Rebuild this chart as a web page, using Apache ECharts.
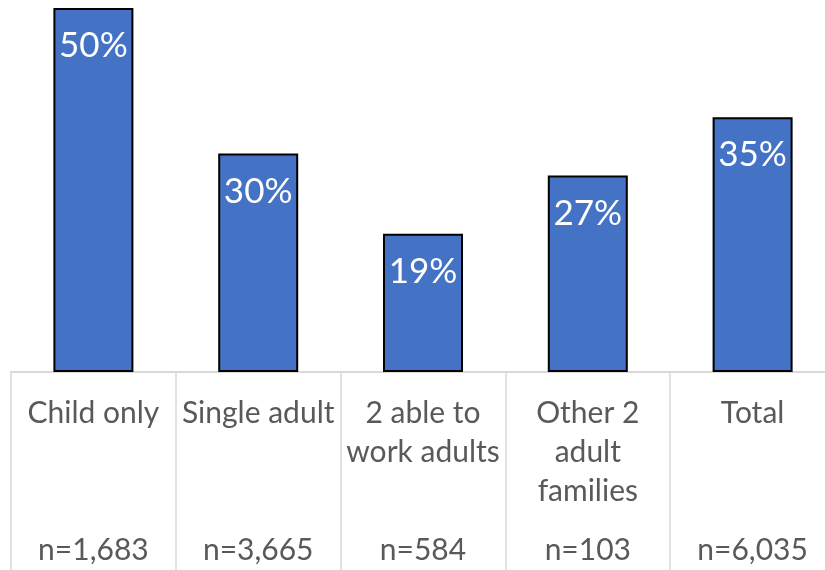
<!DOCTYPE html>
<html>
<head>
<meta charset="utf-8">
<script src="https://cdn.jsdelivr.net/npm/echarts@6/dist/echarts.min.js"></script>
<style>
  html, body { margin: 0; padding: 0; background: #fff; overflow: hidden; }
  /* the last category column runs past the right edge of the page */
  #chart { width: 835px; height: 570px; }
</style>
</head>
<body>
<div id="chart"></div>
<script>
// Household groups (line breaks mark where each name wraps)
const categories = ['Child only', 'Single adult', '2 able to\nwork adults', 'Other 2\nadult\nfamilies', 'Total'];
// Share of each group, in percent
const shares = [50, 30, 19, 27, 35];
// Sample size of each group
const sampleSizes = [1683, 3665, 584, 103, 6035];

const textGray = '#595959';
const lineGray = '#d9d9d9';

// Each axis label: the name (padded to three lines) plus the sample size at the bottom
function axisLabelText(name, idx) {
  const lines = name.split('\n');
  while (lines.length < 3) lines.push('');
  const n = 'n=' + sampleSizes[idx].toLocaleString('en-US');
  return lines.map(l => '{a|' + l + '}').join('\n') + '\n{n|' + n + '}';
}

const chart = echarts.init(document.getElementById('chart'), null, { renderer: 'canvas' });
chart.setOption({
  animation: false,
  grid: { left: 11, right: 0, top: 8, bottom: 198, containLabel: false },
  xAxis: {
    type: 'category',
    data: categories,
    boundaryGap: true,
    axisLine: { show: true, lineStyle: { color: lineGray, width: 2 } },
    axisTick: { show: true, length: 200, lineStyle: { color: lineGray, width: 1.5 } },
    axisLabel: {
      interval: 0,
      margin: 22,
      verticalAlign: 'top',
      formatter: axisLabelText,
      rich: {
        a: { fontFamily: 'Lato', fontSize: 30, lineHeight: 39, color: textGray, align: 'center' },
        n: { fontFamily: 'Lato', fontSize: 30, lineHeight: 79, color: textGray, align: 'center' }
      }
    }
  },
  yAxis: {
    type: 'value',
    min: 0,
    max: 50,
    show: false,
    splitLine: { show: false }
  },
  series: [{
    type: 'bar',
    data: shares,
    barWidth: 80,
    itemStyle: { color: '#4472c4', borderColor: '#000', borderWidth: 2 },
    label: {
      show: true,
      position: 'insideTop',
      distance: 20,
      formatter: p => p.value + '%',
      fontFamily: 'Lato',
      fontSize: 35,
      lineHeight: 36,
      color: '#fff'
    }
  }]
});
</script>
</body>
</html>
